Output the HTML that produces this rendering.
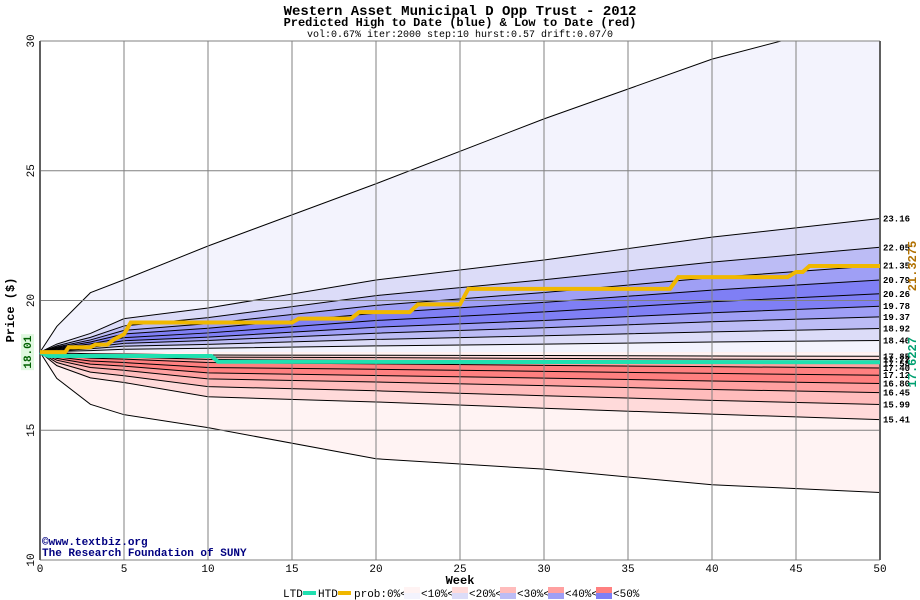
<!DOCTYPE html>
<html><head><meta charset="utf-8"><style>
body{margin:0;background:#fff;}
svg{display:block;font-family:"Liberation Mono","DejaVu Sans Mono",monospace;}
</style></head><body>
<svg id="chart" width="920" height="600" viewBox="0 0 920 600" xmlns="http://www.w3.org/2000/svg">
<text x="460" y="15" text-anchor="middle" font-size="14" font-weight="bold">Western Asset Municipal D Opp Trust - 2012</text>
<text x="460" y="26" text-anchor="middle" font-size="12" font-weight="bold">Predicted High to Date (blue) &amp;  Low to Date (red)</text>
<text x="460" y="37" text-anchor="middle" font-size="10">vol:0.67% iter:2000 step:10 hurst:0.57 drift:0.07/0</text>
<g id="bands"></g><g id="grid"></g><g id="lines"></g><g id="labels"></g>
<text transform="translate(14,310) rotate(-90)" text-anchor="middle" font-size="12" font-weight="bold">Price ($)</text>
<text x="460" y="584" text-anchor="middle" font-size="12" font-weight="bold">Week</text>
<text x="42" y="545" font-size="11" font-weight="bold" fill="#000080">©www.textbiz.org</text>
<text x="42" y="556" font-size="11" font-weight="bold" fill="#000080">The Research Foundation of SUNY</text>
<g font-size="11">
<text x="283" y="597">LTD</text><rect x="303" y="591" width="13" height="4" fill="#20e0b0"/>
<text x="318" y="597">HTD</text><rect x="338" y="591" width="13" height="4" fill="#f0b800"/>
<text x="354" y="597">prob:0%&lt;</text>
<rect x="404" y="587" width="16" height="6" fill="#fff3f3"/><rect x="404" y="593" width="16" height="6" fill="#f3f3fd"/><text x="421" y="597">&lt;10%&lt;</text>
<rect x="452" y="587" width="16" height="6" fill="#ffdada"/><rect x="452" y="593" width="16" height="6" fill="#dcdcf8"/><text x="469" y="597">&lt;20%&lt;</text>
<rect x="500" y="587" width="16" height="6" fill="#ffbcbc"/><rect x="500" y="593" width="16" height="6" fill="#bcbcf5"/><text x="517" y="597">&lt;30%&lt;</text>
<rect x="548" y="587" width="16" height="6" fill="#ffa0a0"/><rect x="548" y="593" width="16" height="6" fill="#9f9ff5"/><text x="565" y="597">&lt;40%&lt;</text>
<rect x="596" y="587" width="16" height="6" fill="#ff8080"/><rect x="596" y="593" width="16" height="6" fill="#7f7ff5"/><text x="613" y="597">&lt;50%</text>
</g>
</svg>
<script>
const weeks=[0,1,3,5,10,20,30,40,50];
const upperOuter=[18.01,19.0,20.3,20.8,22.1,24.5,27.0,29.3,31.0];
const up23=[18.01,18.32,18.73,19.30,19.71,20.79,21.56,22.44,23.16];
const up22=[18.01,18.25,18.58,19.02,19.34,20.19,20.80,21.48,22.05];
const up21=[18.01,18.21,18.48,18.85,19.11,19.81,20.31,20.88,21.35];
const up20b=[18.01,18.18,18.40,18.71,18.93,19.51,19.93,20.40,20.79];
const up20=[18.01,18.15,18.33,18.57,18.75,19.23,19.56,19.95,20.26];
const up19b=[18.01,18.12,18.26,18.45,18.59,18.97,19.23,19.53,19.78];
const up19=[18.01,18.09,18.20,18.35,18.46,18.74,18.95,19.18,19.37];
const up18b=[18.01,18.06,18.14,18.24,18.31,18.50,18.64,18.79,18.92];
const up18=[18.01,18.04,18.07,18.12,18.16,18.25,18.32,18.40,18.46];
const lo17d=[18.01,17.98,17.95,17.94,17.90,17.89,17.88,17.86,17.85];
const lo17c=[18.01,17.95,17.90,17.88,17.82,17.80,17.77,17.74,17.72];
const lo17b=[18.01,17.92,17.85,17.82,17.73,17.69,17.65,17.61,17.58];
const lo17a=[18.01,17.89,17.78,17.74,17.61,17.56,17.50,17.45,17.40];
const lo17=[18.01,17.83,17.67,17.61,17.42,17.35,17.27,17.19,17.12];
const lo16b=[18.01,17.77,17.55,17.47,17.21,17.11,17.01,16.90,16.80];
const lo16=[18.01,17.70,17.42,17.31,16.98,16.86,16.72,16.57,16.45];
const lo15b=[18.01,17.61,17.24,17.10,16.68,16.52,16.33,16.15,15.99];
const lo15=[18.01,17.49,17.02,16.84,16.29,16.09,15.85,15.62,15.41];
const lowerOuter=[18.01,17.0,16.0,15.6,15.1,13.9,13.5,12.9,12.6];
const endLabels=["23.16","22.05","21.35","20.79","20.26","19.78","19.37","18.92","18.46","17.85","17.72","17.58","17.40","17.12","16.80","16.45","15.99","15.41"];
const htdWeeks=[0,1.5,1.7,3,3.3,4,4.4,5,5.4,15,15.4,18.5,19,22,22.5,25,25.5,37.5,38,44.5,45,45.4,45.8,50];
const htdVals=[18.01,18.01,18.2,18.2,18.3,18.3,18.5,18.7,19.15,19.15,19.3,19.3,19.55,19.55,19.85,19.85,20.45,20.45,20.9,20.9,21.1,21.1,21.33,21.33];
const ltdWeeks=[0,0.5,10.2,10.6,50];
const ltdVals=[18.01,17.86,17.86,17.64,17.6227];
const xTicks=[0,5,10,15,20,25,30,35,40,45,50];
const yTicks=[10,15,20,25,30];

const X=w=>40+w*(840/50);
const Y=v=>560-(v-10)*(519/20);
const NS="http://www.w3.org/2000/svg";
function mk(tag,attrs,parent){const e=document.createElementNS(NS,tag);for(const k in attrs)e.setAttribute(k,attrs[k]);parent.appendChild(e);return e;}
const bands=document.getElementById('bands'),grid=document.getElementById('grid'),lines=document.getElementById('lines'),labels=document.getElementById('labels');
mk('defs',{},bands).innerHTML='<clipPath id="pc"><rect x="40" y="41" width="840" height="519"/></clipPath>';
bands.setAttribute('clip-path','url(#pc)');
mk('rect',{x:40,y:41,width:840,height:519,fill:'#fff'},bands);
const pts=(ws,vs)=>ws.map((w,i)=>X(w)+','+Y(vs[i])).join(' ');
const upper=[[upperOuter,'#f3f3fd'],[up23,'#dcdcf8'],[up22,'#bcbcf5'],[up21,'#9f9ff5'],[up20b,'#7f7ff5'],[up20,'#7f7ff5'],[up19b,'#9f9ff5'],[up19,'#bcbcf5'],[up18b,'#dcdcf8'],[up18,'#f3f3fd']];
const lower=[[lowerOuter,'#fff3f3'],[lo15,'#ffdada'],[lo15b,'#ffbcbc'],[lo16,'#ffa0a0'],[lo16b,'#ff8080'],[lo17,'#ff8080'],[lo17a,'#ffa0a0'],[lo17b,'#ffbcbc'],[lo17c,'#ffdada'],[lo17d,'#fff3f3']];
[...upper,...lower].forEach(([arr,c])=>{
  const p=mk('polygon',{points:pts(weeks,arr)+' '+X(50)+','+Y(18.01)+' '+X(0)+','+Y(18.01),fill:c},bands);
  
  
});
[...upper,...lower].forEach(([arr])=>{
  const l=mk('polyline',{points:pts(weeks,arr),fill:'none',stroke:'#000','stroke-width':1},bands);
  
  
});
xTicks.forEach(t=>{
  const g=mk('line',{x1:X(t),x2:X(t),y1:41,y2:560,stroke:'#808080','stroke-width':1},grid);
  
  const tx=mk('text',{x:X(t),y:572,'text-anchor':'middle','font-size':11},grid);tx.textContent=t;
  
});
yTicks.forEach(t=>{
  const g=mk('line',{x1:40,x2:880,y1:Y(t),y2:Y(t),stroke:'#808080','stroke-width':1},grid);
  
  const tx=mk('text',{transform:`translate(34,${Y(t)}) rotate(-90)`,'text-anchor':'middle','font-size':11},grid);tx.textContent=t;
  
});
mk('line',{x1:40,x2:40,y1:41,y2:560,stroke:'#606060','stroke-width':2},grid);
mk('line',{x1:880,x2:880,y1:41,y2:560,stroke:'#606060','stroke-width':2},grid);
const ltd=mk('polyline',{points:pts(ltdWeeks,ltdVals),fill:'none',stroke:'#20e0b0','stroke-width':4},lines);

const htd=mk('polyline',{points:pts(htdWeeks,htdVals),fill:'none',stroke:'#f0b800','stroke-width':4},lines);

const ends=[up23,up22,up21,up20b,up20,up19b,up19,up18b,up18,lo17d,lo17c,lo17b,lo17a,lo17,lo16b,lo16,lo15b,lo15];
ends.forEach((a,i)=>{
  const t=mk('text',{x:883,y:Y(a[a.length-1])+3,'font-size':9,'font-weight':'bold'},labels);t.textContent=endLabels[i];
  
});
mk('rect',{x:21,y:Y(18.01)-18,width:13,height:36,fill:'#e0f8e0'},labels);
const s=mk('text',{transform:`translate(31,${Y(18.01)}) rotate(-90)`,'text-anchor':'middle','font-size':11,'font-weight':'bold',fill:'#006000'},labels);s.textContent='18.01';

const h=mk('text',{transform:`translate(916,${Y(21.33)}) rotate(-90)`,'text-anchor':'middle','font-size':12,'font-weight':'bold',fill:'#b07000'},labels);h.textContent='21.3275';

const l2=mk('text',{transform:`translate(916,${Y(17.62)}) rotate(-90)`,'text-anchor':'middle','font-size':12,'font-weight':'bold',fill:'#00a070'},labels);l2.textContent='17.6227';

</script>
</body></html>
